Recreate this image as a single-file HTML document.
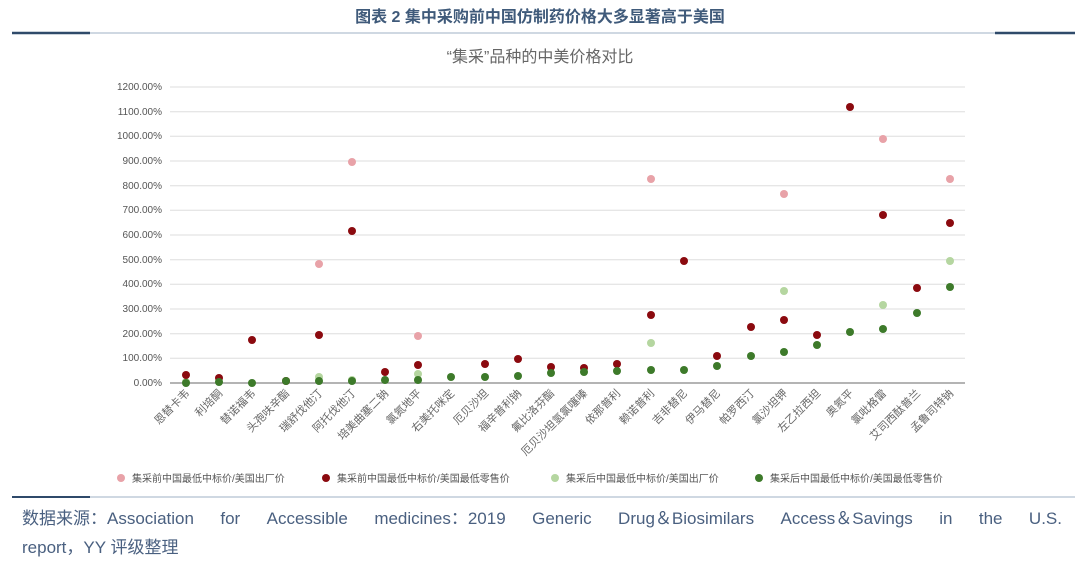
<!DOCTYPE html>
<html><head><meta charset="utf-8"><style>
body{margin:0;background:#fff;width:1080px;height:565px;overflow:hidden;font-family:"Liberation Sans","Noto Sans CJK SC",sans-serif;position:relative}
.f{position:absolute;left:22px;width:1040px;font-size:17px;color:#4a6080;white-space:nowrap;line-height:24px}
.j{display:flex;justify-content:space-between;align-items:baseline}
</style></head><body>
<svg width="1080" height="565" viewBox="0 0 1080 565" xmlns="http://www.w3.org/2000/svg" font-family="Liberation Sans, Noto Sans CJK SC, sans-serif" style="position:absolute;left:0;top:0">
<text x="540" y="22" text-anchor="middle" font-size="16" font-weight="bold" fill="#3f5a7a">图表 2 集中采购前中国仿制药价格大多显著高于美国</text>
<line x1="12" y1="33" x2="1075" y2="33" stroke="#9fb0c4" stroke-width="1"/>
<line x1="12" y1="33" x2="90" y2="33" stroke="#2f4a6a" stroke-width="2.5"/>
<line x1="995" y1="33" x2="1075" y2="33" stroke="#2f4a6a" stroke-width="2.5"/>
<text x="540" y="62" text-anchor="middle" font-size="16" fill="#666">“集采”品种的中美价格对比</text>
<g stroke="#ddd" stroke-width="1">
<line x1="170" y1="87" x2="965" y2="87"/><line x1="170" y1="111.7" x2="965" y2="111.7"/><line x1="170" y1="136.3" x2="965" y2="136.3"/><line x1="170" y1="161" x2="965" y2="161"/><line x1="170" y1="185.7" x2="965" y2="185.7"/><line x1="170" y1="210.3" x2="965" y2="210.3"/><line x1="170" y1="235" x2="965" y2="235"/><line x1="170" y1="259.7" x2="965" y2="259.7"/><line x1="170" y1="284.3" x2="965" y2="284.3"/><line x1="170" y1="309" x2="965" y2="309"/><line x1="170" y1="333.7" x2="965" y2="333.7"/><line x1="170" y1="358.3" x2="965" y2="358.3"/>
</g>
<line x1="170" y1="383" x2="965" y2="383" stroke="#888" stroke-width="1.2"/>
<g font-size="10" fill="#555" text-anchor="end">
<text x="162" y="90">1200.00%</text><text x="162" y="115">1100.00%</text><text x="162" y="139">1000.00%</text><text x="162" y="164">900.00%</text><text x="162" y="189">800.00%</text><text x="162" y="213">700.00%</text><text x="162" y="238">600.00%</text><text x="162" y="263">500.00%</text><text x="162" y="287">400.00%</text><text x="162" y="312">300.00%</text><text x="162" y="337">200.00%</text><text x="162" y="361">100.00%</text><text x="162" y="386">0.00%</text>
</g>
<g font-size="11" fill="#666" text-anchor="end">
<text transform="translate(190,394) rotate(-45)">恩替卡韦</text>
<text transform="translate(223,394) rotate(-45)">利培酮</text>
<text transform="translate(256,394) rotate(-45)">替诺福韦</text>
<text transform="translate(290,394) rotate(-45)">头孢呋辛酯</text>
<text transform="translate(323,394) rotate(-45)">瑞舒伐他汀</text>
<text transform="translate(356,394) rotate(-45)">阿托伐他汀</text>
<text transform="translate(389,394) rotate(-45)">培美曲塞二钠</text>
<text transform="translate(422,394) rotate(-45)">氯氮地平</text>
<text transform="translate(455,394) rotate(-45)">右美托咪定</text>
<text transform="translate(489,394) rotate(-45)">厄贝沙坦</text>
<text transform="translate(522,394) rotate(-45)">福辛普利钠</text>
<text transform="translate(555,394) rotate(-45)">氟比洛芬酯</text>
<text transform="translate(588,394) rotate(-45)">厄贝沙坦氢氯噻嗪</text>
<text transform="translate(621,394) rotate(-45)">依那普利</text>
<text transform="translate(655,394) rotate(-45)">赖诺普利</text>
<text transform="translate(688,394) rotate(-45)">吉非替尼</text>
<text transform="translate(721,394) rotate(-45)">伊马替尼</text>
<text transform="translate(755,394) rotate(-45)">帕罗西汀</text>
<text transform="translate(788,394) rotate(-45)">氯沙坦钾</text>
<text transform="translate(821,394) rotate(-45)">左乙拉西坦</text>
<text transform="translate(854,394) rotate(-45)">奥氮平</text>
<text transform="translate(887,394) rotate(-45)">氯吡格雷</text>
<text transform="translate(921,394) rotate(-45)">艾司西酞普兰</text>
<text transform="translate(954,394) rotate(-45)">孟鲁司特钠</text>
</g>
<g fill="#e8a2a8">
<circle cx="319" cy="264" r="4"/><circle cx="352" cy="162" r="4"/><circle cx="418" cy="336" r="4"/><circle cx="651" cy="179" r="4"/><circle cx="784" cy="194" r="4"/><circle cx="883" cy="139" r="4"/><circle cx="950" cy="179" r="4"/>
</g>
<g fill="#b5d6a0">
<circle cx="186" cy="382" r="4"/><circle cx="319" cy="377" r="4"/><circle cx="352" cy="380" r="4"/><circle cx="418" cy="374" r="4"/><circle cx="651" cy="343" r="4"/><circle cx="784" cy="291" r="4"/><circle cx="883" cy="305" r="4"/><circle cx="950" cy="261" r="4"/>
</g>
<g fill="#8b0a0f">
<circle cx="186" cy="375" r="4"/><circle cx="219" cy="378" r="4"/><circle cx="252" cy="340" r="4"/><circle cx="286" cy="381" r="4"/><circle cx="319" cy="335" r="4"/><circle cx="352" cy="231" r="4"/><circle cx="385" cy="372" r="4"/><circle cx="418" cy="365" r="4"/><circle cx="485" cy="364" r="4"/><circle cx="518" cy="359" r="4"/><circle cx="551" cy="367" r="4"/><circle cx="584" cy="368" r="4"/><circle cx="617" cy="364" r="4"/><circle cx="651" cy="315" r="4"/><circle cx="684" cy="261" r="4"/><circle cx="717" cy="356" r="4"/><circle cx="751" cy="327" r="4"/><circle cx="784" cy="320" r="4"/><circle cx="817" cy="335" r="4"/><circle cx="850" cy="107" r="4"/><circle cx="883" cy="215" r="4"/><circle cx="917" cy="288" r="4"/><circle cx="950" cy="223" r="4"/>
</g>
<g fill="#3d7a2a">
<circle cx="186" cy="383" r="4"/><circle cx="219" cy="382" r="4"/><circle cx="252" cy="383" r="4"/><circle cx="286" cy="381" r="4"/><circle cx="319" cy="381" r="4"/><circle cx="352" cy="381" r="4"/><circle cx="385" cy="380" r="4"/><circle cx="418" cy="380" r="4"/><circle cx="451" cy="377" r="4"/><circle cx="485" cy="377" r="4"/><circle cx="518" cy="376" r="4"/><circle cx="551" cy="373" r="4"/><circle cx="584" cy="372" r="4"/><circle cx="617" cy="371" r="4"/><circle cx="651" cy="370" r="4"/><circle cx="684" cy="370" r="4"/><circle cx="717" cy="366" r="4"/><circle cx="751" cy="356" r="4"/><circle cx="784" cy="352" r="4"/><circle cx="817" cy="345" r="4"/><circle cx="850" cy="332" r="4"/><circle cx="883" cy="329" r="4"/><circle cx="917" cy="313" r="4"/><circle cx="950" cy="287" r="4"/>
</g>
<g font-size="10" fill="#555">
<circle cx="121" cy="478" r="4" fill="#e8a2a8"/><text x="132" y="482">集采前中国最低中标价/美国出厂价</text>
<circle cx="326" cy="478" r="4" fill="#8b0a0f"/><text x="337" y="482">集采前中国最低中标价/美国最低零售价</text>
<circle cx="555" cy="478" r="4" fill="#b5d6a0"/><text x="566" y="482">集采后中国最低中标价/美国出厂价</text>
<circle cx="759" cy="478" r="4" fill="#3d7a2a"/><text x="770" y="482">集采后中国最低中标价/美国最低零售价</text>
</g>
<line x1="12" y1="497" x2="1075" y2="497" stroke="#9fb0c4" stroke-width="1"/>
<line x1="12" y1="497" x2="90" y2="497" stroke="#2f4a6a" stroke-width="2"/>
</svg>
<div class="f j" style="top:507px"><span>数据来源：Association</span><span>for</span><span>Accessible</span><span>medicines：2019</span><span>Generic</span><span>Drug＆Biosimilars</span><span>Access＆Savings</span><span>in</span><span>the</span><span>U.S.</span></div>
<div class="f" style="top:536px">report，YY 评级整理</div>
</body></html>
